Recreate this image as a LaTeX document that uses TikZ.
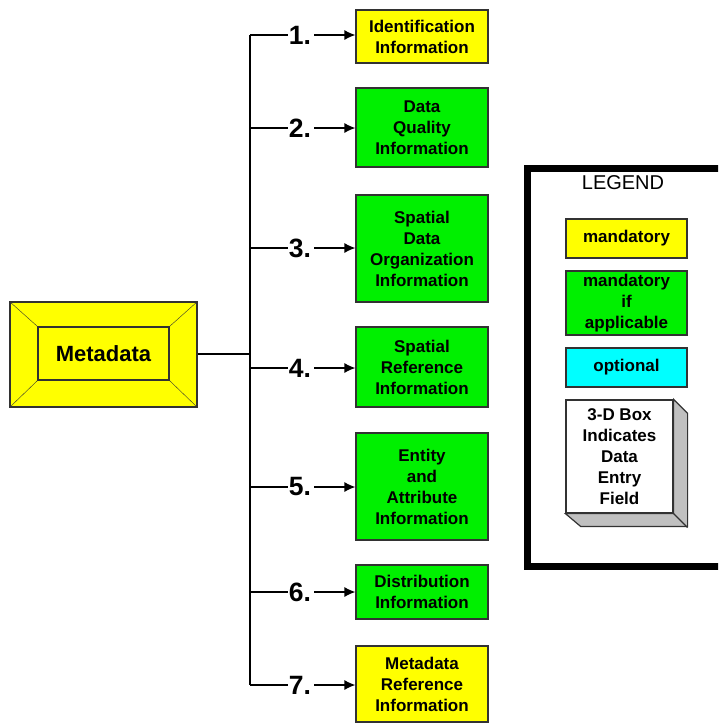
\documentclass[tikz,border=0pt]{standalone}
\usepackage{fontspec}
\setmainfont{Liberation Sans}
\usetikzlibrary{arrows.meta}

\definecolor{boxyellow}{RGB}{255,255,0}
\definecolor{boxgreen}{RGB}{0,240,0}
\definecolor{boxcyan}{RGB}{0,255,255}
\definecolor{boxline}{RGB}{50,50,50}
\definecolor{shadowgray}{RGB}{192,192,192}

\tikzset{
  infobox/.style={draw=boxline, line width=1.2pt, minimum width=132, align=center, inner sep=0pt,
    font=\bfseries\fontsize{17}{21}\selectfont},
  legbox/.style={infobox, minimum width=121},
  num/.style={inner sep=0pt, font=\bfseries\fontsize{26.5}{26.5}\selectfont},
  link/.style={line width=1.2pt},
  arrowlink/.style={link, -{Latex[length=11pt,width=10pt]}}
}

\begin{document}
\begin{tikzpicture}[x=1pt,y=-1pt]
\useasboundingbox (0,0) rectangle (718,723);
\clip (0,0) rectangle (718,723);

% ---- Metadata box (picture frame look)
\node[draw=boxline, line width=1.2pt, fill=boxyellow, minimum width=187, minimum height=105] (metaout) at (103.5,354.5) {};
\node[draw=boxline, line width=1.2pt, minimum width=131, minimum height=53, font=\bfseries\fontsize{22}{22}\selectfont] (meta) at (103.5,353.5) {Metadata};
\draw[boxline] (metaout.north west) -- (meta.north west) (metaout.north east) -- (meta.north east)
  (metaout.south west) -- (meta.south west) (metaout.south east) -- (meta.south east);

% ---- the seven sections
\node[infobox, fill=boxyellow, minimum height=53] (b1) at (422,36.5) {Identification\\Information};
\node[infobox, fill=boxgreen, minimum height=79] (b2) at (422,127.5) {Data\\Quality\\Information};
\node[infobox, fill=boxgreen, minimum height=107] (b3) at (422,248.5) {Spatial\\Data\\Organization\\Information};
\node[infobox, fill=boxgreen, minimum height=80] (b4) at (422,367) {Spatial\\Reference\\Information};
\node[infobox, fill=boxgreen, minimum height=107] (b5) at (422,486.5) {Entity\\and\\Attribute\\Information};
\node[infobox, fill=boxgreen, minimum height=54] (b6) at (422,592) {Distribution\\Information};
\node[infobox, fill=boxyellow, minimum height=76] (b7) at (422,684) {Metadata\\Reference\\Information};

% ---- numbers
\node[num] (n1) at (300,35) {1.};
\node[num] (n2) at (300,128) {2.};
\node[num] (n3) at (300,248) {3.};
\node[num] (n4) at (300,368) {4.};
\node[num] (n5) at (300,487) {5.};
\node[num] (n6) at (300,592) {6.};
\node[num] (n7) at (300,685) {7.};

% ---- trunk line
\coordinate (t1) at (250,35);
\coordinate (t2) at (250,128);
\coordinate (t3) at (250,248);
\coordinate (t4) at (250,368);
\coordinate (t5) at (250,487);
\coordinate (t6) at (250,592);
\coordinate (t7) at (250,685);
\coordinate (join) at (250,354);
\draw[link] (t1) -- (t7);
\draw[link] (metaout.east |- join) -- (join);

% ---- branches: trunk -- number -> box
\draw[link] (t1) -- ([xshift=-1pt]n1.west); \draw[arrowlink] ([xshift=3pt]n1.east) -- (b1.west |- n1.east);
\draw[link] (t2) -- ([xshift=-1pt]n2.west); \draw[arrowlink] ([xshift=3pt]n2.east) -- (b2.west |- n2.east);
\draw[link] (t3) -- ([xshift=-1pt]n3.west); \draw[arrowlink] ([xshift=3pt]n3.east) -- (b3.west |- n3.east);
\draw[link] (t4) -- ([xshift=-1pt]n4.west); \draw[arrowlink] ([xshift=3pt]n4.east) -- (b4.west |- n4.east);
\draw[link] (t5) -- ([xshift=-1pt]n5.west); \draw[arrowlink] ([xshift=3pt]n5.east) -- (b5.west |- n5.east);
\draw[link] (t6) -- ([xshift=-1pt]n6.west); \draw[arrowlink] ([xshift=3pt]n6.east) -- (b6.west |- n6.east);
\draw[link] (t7) -- ([xshift=-1pt]n7.west); \draw[arrowlink] ([xshift=3pt]n7.east) -- (b7.west |- n7.east);

% ---- legend frame, runs off the right edge
\draw[line width=7pt] (740,168) -- (527,168) -- (527,566) -- (740,566);
\node[font=\fontsize{20}{20}\selectfont] (legend) at (623,183) {LEGEND};
\node[legbox, fill=boxyellow, minimum height=39] (lmand) at (626.5,238.5) {mandatory};
\node[legbox, fill=boxgreen, minimum height=64] (lmandif) at (626.5,303) {mandatory\\if\\applicable};
\node[legbox, fill=boxcyan, minimum height=39] (lopt) at (626.5,367.5) {optional};

% ---- 3-D box
\node[legbox, fill=white, minimum width=107, minimum height=113] (entry) at (619.5,456.5) {3-D Box\\Indicates\\Data\\Entry\\Field};
\draw[boxline, line width=1.2pt, fill=shadowgray] (entry.north east) -- ++(14,14) -- ++(0,113) -- ++(-107,0)
  -- (entry.south west) -- (entry.south east) -- cycle;
\draw[boxline, line width=1.2pt] (entry.south east) -- ++(14,14);

\end{tikzpicture}
\end{document}
